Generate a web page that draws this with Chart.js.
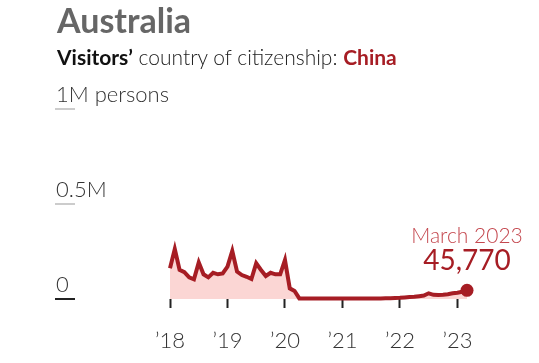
<!DOCTYPE html>
<html>
<head>
<meta charset="utf-8">
<script src="https://cdn.jsdelivr.net/npm/chart.js@4/dist/chart.umd.min.js"></script>
<style>
  html, body { margin: 0; padding: 0; background: #fff; }
  body { width: 539px; height: 363px; position: relative; overflow: hidden; font-family: Lato, "Open Sans", sans-serif; }
  #wrap { position: absolute; left: 0; top: 0; width: 539px; height: 363px; }
  .title { position: absolute; left: 57px; top: -1px; font-size: 34px; line-height: 41px; font-weight: 700; color: #666; white-space: nowrap; }
  .sub { position: absolute; left: 57px; top: 44px; font-size: 21px; line-height: 25px; font-weight: 300; color: #222; white-space: nowrap; }
  .sub b { font-weight: 700; color: #111; }
  .sub .cn { font-weight: 700; color: #a61d24; }
</style>
</head>
<body>
<div id="wrap"><canvas id="c" width="539" height="363"></canvas></div>
<div class="title">Australia</div>
<div class="sub"><b>Visitors’</b> country of citizenship: <span class="cn">China</span></div>
<script>
// Monthly visitors from China, Jan 2018 – Mar 2023 (persons)
const months2018 = [162000, 263000, 153000, 141000, 114000, 104000, 193000, 130000, 114000, 138000, 130000, 135000];
const months2019 = [170000, 253000, 144000, 126000, 117000, 105000, 188000, 153000, 121000, 138000, 130000, 130000];
const months2020 = [205000, 56000, 42000, 3000, 2000, 2000, 2000, 2000, 2000, 2000, 2000, 2000];
const months2021 = [2000, 2000, 2000, 2000, 2000, 2000, 2500, 2500, 3000, 3500, 4000, 5000];
const months2022 = [6000, 8000, 10000, 12000, 15000, 18000, 30000, 22000, 21000, 22000, 25000, 30000];
const months2023 = [33000, 38000, 45770];
const values = [].concat(months2018, months2019, months2020, months2021, months2022, months2023);

const yearTickLabels = ['’18', '’19', '’20', '’21', '’22', '’23'];
const yearTickPositions = [0, 12, 24, 36, 48, 60]; // month index of each January
const yTickValues = [0, 500000, 1000000];
const yTickLabels = ['0', '0.5M', '1M persons'];
const lastLabel = 'March 2023';
const lastValueText = '45,770';

const points = values.map((v, i) => ({ x: i, y: v }));
const lastIndex = values.length - 1;

const RED = '#a61d24';

const yLabelsPlugin = {
  id: 'yLabels',
  afterDraw(chart) {
    const ctx = chart.ctx;
    const y = chart.scales.y;
    ctx.save();
    yTickValues.forEach((v, i) => {
      const py = Math.round(y.getPixelForValue(v));
      ctx.strokeStyle = v === 0 ? '#222' : '#cccccc';
      ctx.lineWidth = 2;
      ctx.beginPath();
      ctx.moveTo(55, py);
      ctx.lineTo(75, py);
      ctx.stroke();
      ctx.fillStyle = '#333';
      ctx.font = '300 22px Lato';
      ctx.textAlign = 'left';
      ctx.textBaseline = 'alphabetic';
      ctx.fillText(yTickLabels[i], 56, py - 7);
    });
    // annotation for the last point
    const meta = chart.getDatasetMeta(0);
    const pt = meta.data[lastIndex];
    ctx.textAlign = 'center';
    ctx.fillStyle = '#c4474e';
    ctx.font = '300 21px Lato';
    ctx.fillText(lastLabel, pt.x, pt.y - 47);
    ctx.fillStyle = RED;
    ctx.font = '400 28px Lato';
    ctx.fillText(lastValueText, pt.x, pt.y - 20);
    ctx.restore();
  }
};

new Chart(document.getElementById('c'), {
  type: 'line',
  data: {
    datasets: [{
      data: points,
      borderColor: RED,
      borderWidth: 4,
      backgroundColor: '#fbd6d4',
      fill: 'origin',
      tension: 0,
      clip: false,
      pointRadius: (c) => c.dataIndex === lastIndex ? 6.5 : 0,
      pointBackgroundColor: RED,
      pointBorderWidth: 0,
      pointHoverRadius: 0
    }]
  },
  options: {
    responsive: false,
    devicePixelRatio: 1,
    animation: false,
    events: [],
    layout: { padding: { left: 170, right: 72, top: 109, bottom: 0 } },
    plugins: { legend: { display: false }, tooltip: { enabled: false } },
    scales: {
      x: {
        type: 'linear',
        min: 0,
        max: lastIndex,
        border: { display: false },
        grid: { drawOnChartArea: false, drawTicks: true, tickLength: 9, color: '#222', tickWidth: 2 },
        ticks: {
          padding: 20,
          font: { family: 'Lato', size: 22, weight: '300' },
          color: '#333',
          maxRotation: 0,
          autoSkip: false,
          callback: (v) => yearTickLabels[yearTickPositions.indexOf(v)]
        },
        afterBuildTicks(scale) { scale.ticks = yearTickPositions.map(v => ({ value: v })); },
        afterFit(scale) { scale.height = 64; }
      },
      y: {
        display: false,
        min: 0,
        max: 1000000
      }
    }
  },
  plugins: [yLabelsPlugin]
});
</script>
</body>
</html>
